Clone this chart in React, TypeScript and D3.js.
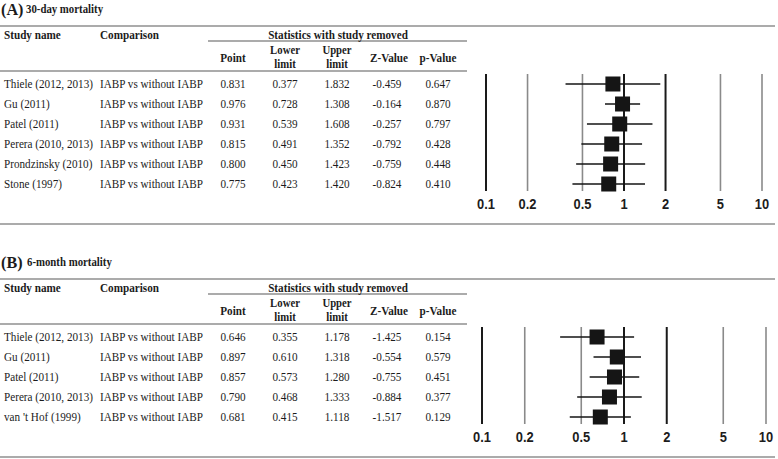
import React from 'react';
import * as d3 from 'd3';

const comparison = 'IABP vs without IABP';
const ticks = [0.1, 0.2, 0.5, 1, 2, 5, 10];
const darkTicks = [0.1, 1, 2];

// (A) 30-day mortality
const studiesA = ['Thiele (2012, 2013)', 'Gu (2011)', 'Patel (2011)', 'Perera (2010, 2013)', 'Prondzinsky (2010)', 'Stone (1997)'];
const pointA = [0.831, 0.976, 0.931, 0.815, 0.800, 0.775];
const lowerA = [0.377, 0.728, 0.539, 0.491, 0.450, 0.423];
const upperA = [1.832, 1.308, 1.608, 1.352, 1.423, 1.420];
const zA = [-0.459, -0.164, -0.257, -0.792, -0.759, -0.824];
const pA = [0.647, 0.870, 0.797, 0.428, 0.448, 0.410];

// (B) 6-month mortality
const studiesB = ['Thiele (2012, 2013)', 'Gu (2011)', 'Patel (2011)', 'Perera (2010, 2013)', "van 't Hof (1999)"];
const pointB = [0.646, 0.897, 0.857, 0.790, 0.681];
const lowerB = [0.355, 0.610, 0.573, 0.468, 0.415];
const upperB = [1.178, 1.318, 1.280, 1.333, 1.118];
const zB = [-1.425, -0.554, -0.755, -0.884, -1.517];
const pB = [0.154, 0.579, 0.451, 0.377, 0.129];

const W = 778;
const H = 459;
const SX = 0.86; // glyphs in the source are squeezed horizontally
const serif = '"Liberation Serif", "Times New Roman", serif';
const sans = '"Liberation Sans", Arial, sans-serif';
const fmt = (v: number) => v.toFixed(3); // plain hyphen minus, like the source
const ruleColor = '#8f8f8f';
const ink = '#1c1c1c';

function T({ x, y, children, anchor = 'start', size = 13, bold = false, family = serif, sx = SX }: any) {
  return (
    <text
      transform={`translate(${x},${y}) scale(${sx},1)`}
      textAnchor={anchor}
      fontSize={size}
      fontWeight={bold ? 'bold' : 'normal'}
      fontFamily={family}
      fill={ink}
    >
      {children}
    </text>
  );
}

interface PanelProps {
  top: number;
  letter: string;
  title: string;
  studies: string[];
  point: number[];
  lower: number[];
  upper: number[];
  z: number[];
  p: number[];
  plotRange: [number, number];
}

function Panel({ top, letter, title, studies, point, lower, upper, z, p, plotRange }: PanelProps) {
  const cols = [233, 285, 337, 387, 438];
  const rowY = (i: number) => top + 83 + i * 20;
  const lastY = rowY(studies.length - 1);

  const x = d3.scaleLog().domain([0.1, 10]).range(plotRange);
  const lineTop = rowY(0) - 9;
  const lineBot = lastY + 8;
  const box = 15;

  return (
    <g>
      {/* title */}
      <T x={1} y={top + 15.2} size={17} bold sx={0.95}>({letter})</T>
      <T x={letter === 'A' ? 26 : 27} y={top + 13} size={12} bold sx={0.9}>{title}</T>

      {/* table rules */}
      <line x1={0} x2={775} y1={top + 26} y2={top + 26} stroke={ruleColor} strokeWidth={1.6} />
      <line x1={208} x2={467} y1={top + 41} y2={top + 41} stroke={ruleColor} strokeWidth={1.4} />
      <line x1={0} x2={467} y1={top + 71} y2={top + 71} stroke={ruleColor} strokeWidth={1.6} />
      <line x1={0} x2={775} y1={lastY + 41} y2={lastY + 41} stroke={ruleColor} strokeWidth={1.6} />

      {/* headers */}
      <T x={4} y={top + 38.5} bold>Study name</T>
      <T x={100} y={top + 38.5} bold>Comparison</T>
      <T x={338} y={top + 38.5} anchor="middle" bold>Statistics with study removed</T>
      <T x={cols[0]} y={top + 61.5} anchor="middle" bold>Point</T>
      <T x={cols[1]} y={top + 54} anchor="middle" bold size={12.5}>Lower</T>
      <T x={cols[1]} y={top + 68} anchor="middle" bold size={12.5}>limit</T>
      <T x={cols[2]} y={top + 54} anchor="middle" bold size={12.5}>Upper</T>
      <T x={cols[2]} y={top + 68} anchor="middle" bold size={12.5}>limit</T>
      <T x={cols[3] + 2} y={top + 61.5} anchor="middle" bold>Z-Value</T>
      <T x={cols[4]} y={top + 61.5} anchor="middle" bold>p-Value</T>

      {/* rows */}
      {studies.map((s, i) => {
        const y = rowY(i) + 4.5;
        return (
          <g key={s}>
            <T x={4} y={y}>{s}</T>
            <T x={100} y={y}>{comparison}</T>
            <T x={cols[0]} y={y} anchor="middle">{fmt(point[i])}</T>
            <T x={cols[1]} y={y} anchor="middle">{fmt(lower[i])}</T>
            <T x={cols[2]} y={y} anchor="middle">{fmt(upper[i])}</T>
            <T x={cols[3]} y={y} anchor="middle">{fmt(z[i])}</T>
            <T x={cols[4]} y={y} anchor="middle">{fmt(p[i])}</T>
          </g>
        );
      })}

      {/* forest plot reference lines */}
      {ticks.map((t) => {
        const dark = darkTicks.includes(t);
        return (
          <g key={t}>
            <line
              x1={x(t)}
              x2={x(t)}
              y1={lineTop}
              y2={lineBot}
              stroke={dark ? '#1a1a1a' : '#8a8a8a'}
              strokeWidth={dark ? 2 : 1.6}
            />
            <T x={x(t)} y={lastY + 26} anchor="middle" size={15} bold family={sans}>
              {String(t)}
            </T>
          </g>
        );
      })}

      {/* confidence intervals and point estimates */}
      {studies.map((s, i) => (
        <g key={s}>
          <line
            x1={x(lower[i])}
            x2={x(upper[i])}
            y1={rowY(i) + 1}
            y2={rowY(i) + 1}
            stroke="#151515"
            strokeWidth={1.7}
          />
          <rect
            x={x(point[i]) - box / 2}
            y={rowY(i) + 1 - box / 2}
            width={box}
            height={box}
            fill="#151515"
          />
        </g>
      ))}
    </g>
  );
}

export default function App() {
  return (
    <svg
      width={W}
      height={H}
      style={{ position: 'absolute', left: 0, top: 0, background: '#fff' }}
    >
      <Panel
        top={0}
        letter="A"
        title="30-day mortality"
        studies={studiesA}
        point={pointA}
        lower={lowerA}
        upper={upperA}
        z={zA}
        p={pA}
        plotRange={[486, 762]}
      />
      <Panel
        top={253}
        letter="B"
        title="6-month mortality"
        studies={studiesB}
        point={pointB}
        lower={lowerB}
        upper={upperB}
        z={zB}
        p={pB}
        plotRange={[482, 766]}
      />
    </svg>
  );
}
